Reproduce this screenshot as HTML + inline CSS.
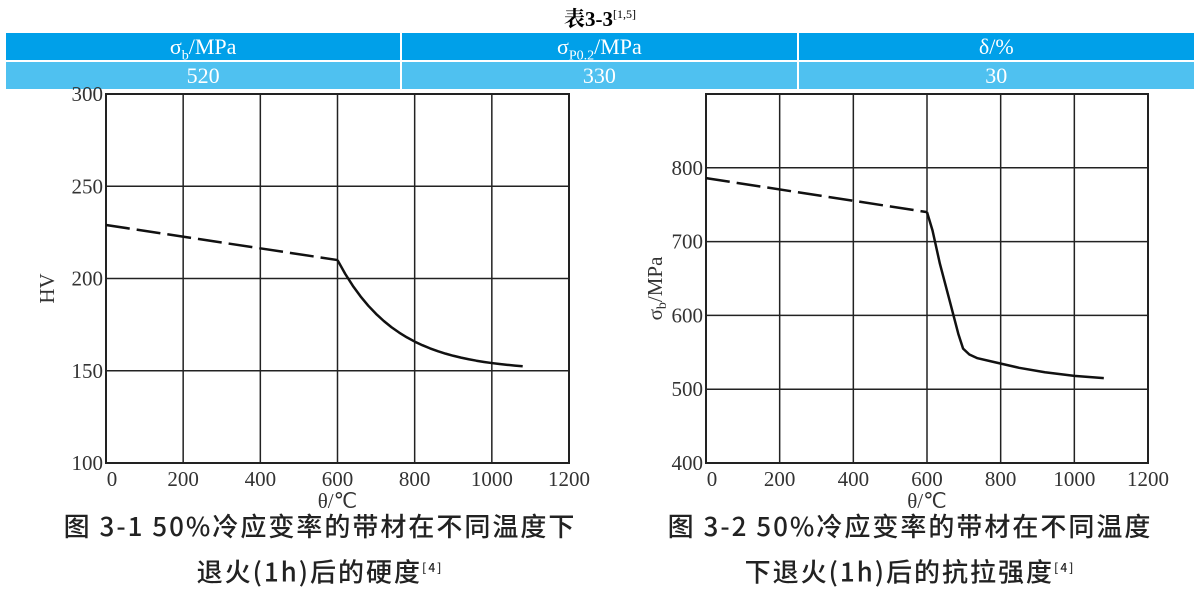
<!DOCTYPE html>
<html><head><meta charset="utf-8"><style>
body{margin:0;width:1200px;height:599px;background:#fff;overflow:hidden;position:relative;font-family:"Liberation Serif",serif}
.t{position:absolute;left:0;width:1200px;top:3px;text-align:center;font-weight:bold;font-size:21px;font-family:"Liberation Serif","Noto Serif CJK SC",serif}
.t sup{font-size:12px;font-weight:normal}
table{position:absolute;left:4px;top:31px;width:1192px;border-collapse:collapse;color:#fff;font-size:22px}
td{border:2px solid #fff;text-align:center;height:27px;padding:0;line-height:26px}
.h td{background:#00a0e9}.v td{background:#4fc1f0}
sub{font-size:14px;line-height:0}
.cap{position:absolute;font-family:"Noto Sans CJK SC",sans-serif;font-size:26px;font-weight:500;color:#222;text-align:center;line-height:42px;letter-spacing:2px}
.cap sup{font-size:12px}
</style></head><body>
<div class="t">表3-3<sup>[1,5]</sup></div>
<table><tr class="h"><td style="width:33.3%">σ<sub>b</sub>/MPa</td><td style="width:33.3%">σ<sub>P0.2</sub>/MPa</td><td>δ/%</td></tr>
<tr class="v"><td>520</td><td>330</td><td>30</td></tr></table>
<svg id="s" width="1200" height="599" style="position:absolute;left:0;top:0" font-family="Liberation Serif, serif" font-size="21" fill="#333"></svg>
<div class="cap" style="left:20px;width:600px;top:505px">图 3-1 50%冷应变率的带材在不同温度下<br>退火(1h)后的硬度<sup>[4]</sup></div>
<div class="cap" style="left:610px;width:600px;top:505px">图 3-2 50%冷应变率的带材在不同温度<br>下退火(1h)后的抗拉强度<sup>[4]</sup></div>
<script>
const s=document.getElementById('s');let h='';
function chart(L,R,T,B,ymin,ymax,ystep,ylab,labx,dash,solid){
 const X=v=>L+(R-L)*v/1200,Y=v=>B-(B-T)*(v-ymin)/(ymax-ymin);
 for(let v=0;v<=1200;v+=200){h+=`<line x1="${X(v)}" y1="${T}" x2="${X(v)}" y2="${B}" stroke="#222" stroke-width="1.5"/>`;
  h+=`<text x="${X(v)+(v==0?6:0)}" y="${B+23}" text-anchor="middle">${v}</text>`;}
 for(let v=ymin;v<=ymax;v+=ystep){h+=`<line x1="${L}" y1="${Y(v)}" x2="${R}" y2="${Y(v)}" stroke="#222" stroke-width="1.5"/>`;
  if(v<ymax||ymax%100==0&&ymax!=900)h+=`<text x="${L-3}" y="${Y(v)+7}" text-anchor="end">${v}</text>`;}
 h+=`<rect x="${L}" y="${T}" width="${R-L}" height="${B-T}" fill="none" stroke="#222" stroke-width="2"/>`;
 h+=`<text x="${(L+R)/2}" y="${B+45}" text-anchor="middle">θ/℃</text>`;
 h+=`<text transform="translate(${labx},${(T+B)/2+10}) rotate(-90)" text-anchor="middle">${ylab}</text>`;
 h+=`<path d="M${X(dash[0][0])},${Y(dash[0][1])}L${X(dash[1][0])},${Y(dash[1][1])}" stroke="#111" stroke-width="2.5" fill="none" stroke-dasharray="24,7"/>`;
 h+=`<path d="M`+solid.map(p=>X(p[0])+','+Y(p[1])).join(' L')+`" stroke="#111" stroke-width="2.5" fill="none" stroke-linejoin="round"/>`;
}
let c1=[];for(let t=600;t<=1080;t+=20){c1.push([t,150+60*Math.exp(-(t-600)/150)]);}
chart(106,569,94,463,100,300,50,'HV',54,[[0,229],[600,210]],c1);
let c2=[[600,740],[615,715],[635,670],[663,617],[685,575],[698,555],[715,547],[737,542],[780,537],[850,529],[920,523],[1000,518],[1080,515]];
chart(706,1148,94,463,400,900,100,'σ<tspan font-size="14" dy="4">b</tspan><tspan dy="-4">/MPa</tspan>',662,[[0,786],[600,740]],c2);
s.innerHTML=h;
</script>
</body></html>
